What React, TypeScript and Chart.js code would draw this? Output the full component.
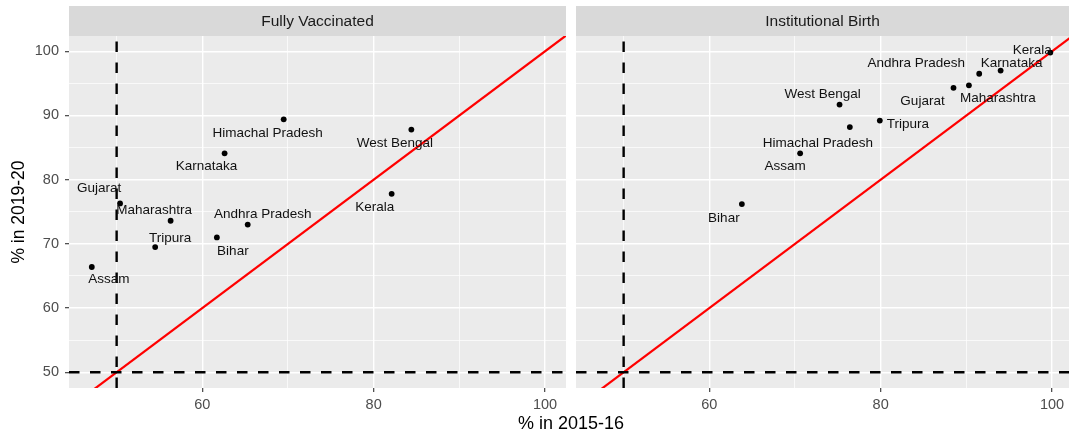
import React, { useEffect, useRef } from "react";
import { Chart, registerables } from "chart.js";

Chart.register(...registerables);

// ---------- data ----------
const states = [
  "Andhra Pradesh",
  "Assam",
  "Bihar",
  "Gujarat",
  "Himachal Pradesh",
  "Karnataka",
  "Kerala",
  "Maharashtra",
  "Tripura",
  "West Bengal",
];
const vaccinated2015 = [65.3, 47.1, 61.7, 50.4, 69.5, 62.6, 82.1, 56.3, 54.5, 84.4];
const vaccinated2019 = [73.0, 66.4, 71.0, 76.3, 89.4, 84.1, 77.8, 73.6, 69.5, 87.8];
const birth2015 = [91.5, 70.6, 63.8, 88.5, 76.4, 94.0, 99.8, 90.3, 79.9, 75.2];
const birth2019 = [96.5, 84.1, 76.2, 94.3, 88.2, 97.0, 99.8, 94.7, 89.2, 91.7];

const panelTitles = ["Fully Vaccinated", "Institutional Birth"];
const xTickLabels = [60, 80, 100];
const xGridValues = [50, 60, 70, 80, 90, 100];
const yTickLabels = [50, 60, 70, 80, 90, 100];
const yGridValues = [50, 55, 60, 65, 70, 75, 80, 85, 90, 95, 100];
const threshold = 50;
const xTitle = "% in 2015-16";
const yTitle = "% in 2019-20";

// label offsets (px) from each point, mimicking the repelled labels
const vaccLabelOffsets = [
  [15, -10], [17, 12], [16, 14], [-21, -15], [-16, 14],
  [-18, 13], [-17, 13], [-16.5, -10], [15, -9], [-16.5, 14],
];
const birthLabelOffsets = [
  [-63, -10], [-15, 13], [-18, 14], [-31, 13], [-32, 16],
  [11, -7], [-18, -2], [29, 13], [28, 4], [-17, -10],
];

// ---------- layout / style ----------
const W = 1069;
const H = 436;
const FONT = '"Liberation Sans", Arial, Helvetica, sans-serif';
const X_MIN = 44.44;
const X_MAX_LEFT = 102.45;
const X_MAX_RIGHT = 101.98;
const Y_MIN = 47.55;
const Y_MAX = 102.38;
const PANEL_TOP = 36;
const STRIP_TOP = 6;
const PANEL_BOTTOM = 388;
const LEFT_PANEL_L = 69;
const LEFT_PANEL_R = 566;
const RIGHT_PANEL_L = 576;

const decorPlugin = {
  id: "decor",
  beforeDraw(chart: any, _args: any, opts: any) {
    const { ctx, chartArea: a } = chart;
    ctx.save();
    ctx.fillStyle = "#EBEBEB";
    ctx.fillRect(a.left, a.top, a.right - a.left, a.bottom - a.top);
    ctx.fillStyle = "#D9D9D9";
    ctx.fillRect(a.left, STRIP_TOP, a.right - a.left, a.top - STRIP_TOP);
    ctx.fillStyle = "#1A1A1A";
    ctx.font = `15.5px ${FONT}`;
    ctx.textAlign = "center";
    ctx.textBaseline = "middle";
    ctx.fillText(opts.strip, (a.left + a.right) / 2, (STRIP_TOP + a.top) / 2 + 1);
    if (opts.yTitle) {
      ctx.save();
      ctx.translate(19, (a.top + a.bottom) / 2);
      ctx.rotate(-Math.PI / 2);
      ctx.fillStyle = "#000000";
      ctx.font = `17.5px ${FONT}`;
      ctx.fillText(opts.yTitle, 0, 0);
      ctx.restore();
    }
    if (opts.xTitle) {
      ctx.fillStyle = "#000000";
      ctx.font = `18px ${FONT}`;
      ctx.fillText(opts.xTitle, (LEFT_PANEL_L + W) / 2 + 2, 424);
    }
    ctx.restore();
  },
  afterDatasetsDraw(chart: any, _args: any, opts: any) {
    const { ctx } = chart;
    const xs = chart.scales.x;
    const ys = chart.scales.y;
    ctx.save();
    ctx.fillStyle = "#111111";
    ctx.font = `13.5px ${FONT}`;
    ctx.textAlign = "center";
    ctx.textBaseline = "middle";
    opts.labels.forEach((lab: string, i: number) => {
      const px = xs.getPixelForValue(opts.xv[i]);
      const py = ys.getPixelForValue(opts.yv[i]);
      ctx.fillText(lab, px + opts.offsets[i][0], py + opts.offsets[i][1]);
    });
    ctx.restore();
  },
};

function makeConfig(panel: number): any {
  const xv = panel === 0 ? vaccinated2015 : birth2015;
  const yv = panel === 0 ? vaccinated2019 : birth2019;
  const offsets = panel === 0 ? vaccLabelOffsets : birthLabelOffsets;
  const xMax = panel === 0 ? X_MAX_LEFT : X_MAX_RIGHT;
  const lo = Math.min(X_MIN, Y_MIN) - 5;
  const hi = Math.max(xMax, Y_MAX) + 5;

  return {
    type: "scatter",
    data: {
      datasets: [
        {
          label: "points",
          data: states.map((_, i) => ({ x: xv[i], y: yv[i] })),
          backgroundColor: "#000000",
          borderWidth: 0,
          pointRadius: 2.9,
          showLine: false,
        },
        {
          label: "vline",
          data: [
            { x: threshold, y: Y_MIN },
            { x: threshold, y: Y_MAX },
          ],
          showLine: true,
          borderColor: "#000000",
          borderWidth: 2.4,
          borderDash: [10.5, 10.5],
          pointRadius: 0,
          clip: 0,
        },
        {
          label: "hline",
          data: [
            { x: X_MIN, y: threshold },
            { x: xMax, y: threshold },
          ],
          showLine: true,
          borderColor: "#000000",
          borderWidth: 2.4,
          borderDash: [10.5, 10.5],
          pointRadius: 0,
          clip: 0,
        },
        {
          label: "identity",
          data: [
            { x: lo, y: lo },
            { x: hi, y: hi },
          ],
          showLine: true,
          borderColor: "#FF0000",
          borderWidth: 2.2,
          pointRadius: 0,
          clip: 0,
        },
      ],
    },
    options: {
      animation: false,
      responsive: false,
      devicePixelRatio: 1,
      events: [],
      layout: {
        autoPadding: false,
        padding: {
          left: 0,
          top: PANEL_TOP,
          right: panel === 0 ? W - LEFT_PANEL_R : 0,
          bottom: 0,
        },
      },
      plugins: {
        legend: { display: false },
        tooltip: { enabled: false },
        decor: {
          strip: panelTitles[panel],
          yTitle: panel === 0 ? yTitle : null,
          xTitle: panel === 1 ? xTitle : null,
          labels: states,
          xv,
          yv,
          offsets,
        },
      },
      scales: {
        x: {
          type: "linear",
          min: X_MIN,
          max: xMax,
          afterBuildTicks: (s: any) => {
            s.ticks = xGridValues.map((v) => ({ value: v }));
          },
          afterFit: (s: any) => {
            s.height = H - PANEL_BOTTOM;
            s.paddingLeft = 0;
            s.paddingRight = 0;
          },
          border: { display: false },
          grid: {
            color: "#FFFFFF",
            lineWidth: (c: any) => (xTickLabels.includes(c.tick?.value) ? 1.4 : 0.7),
            drawTicks: true,
            tickLength: 4,
            tickWidth: 1.1,
            tickColor: (c: any) =>
              xTickLabels.includes(c.tick?.value) ? "#333333" : "rgba(0,0,0,0)",
          },
          ticks: {
            autoSkip: false,
            maxRotation: 0,
            padding: 4,
            color: "#4D4D4D",
            font: { family: FONT, size: 14.5 },
            callback: (v: any) => (xTickLabels.includes(v) ? String(v) : ""),
          },
        },
        y: {
          type: "linear",
          min: Y_MIN,
          max: Y_MAX,
          afterBuildTicks: (s: any) => {
            s.ticks = yGridValues.map((v) => ({ value: v }));
          },
          afterFit: (s: any) => {
            s.width = panel === 0 ? LEFT_PANEL_L : RIGHT_PANEL_L;
            s.paddingTop = 0;
            s.paddingBottom = 0;
          },
          border: { display: false },
          grid: {
            color: "#FFFFFF",
            lineWidth: (c: any) => (yTickLabels.includes(c.tick?.value) ? 1.4 : 0.7),
            drawTicks: panel === 0,
            tickLength: 4,
            tickWidth: 1.1,
            tickColor: (c: any) =>
              yTickLabels.includes(c.tick?.value) ? "#333333" : "rgba(0,0,0,0)",
          },
          ticks: {
            display: panel === 0,
            autoSkip: false,
            padding: 6,
            color: "#4D4D4D",
            font: { family: FONT, size: 14.5 },
            callback: (v: any) => (yTickLabels.includes(v) ? String(v) : ""),
          },
        },
      },
    },
    plugins: [decorPlugin],
  };
}

export default function App() {
  const leftRef = useRef<HTMLCanvasElement | null>(null);
  const rightRef = useRef<HTMLCanvasElement | null>(null);

  useEffect(() => {
    document.body.style.margin = "0";
    const charts: Chart[] = [];
    if (leftRef.current) charts.push(new Chart(leftRef.current, makeConfig(0)));
    if (rightRef.current) charts.push(new Chart(rightRef.current, makeConfig(1)));
    return () => charts.forEach((c) => c.destroy());
  }, []);

  const canvasStyle: React.CSSProperties = {
    position: "absolute",
    left: 0,
    top: 0,
    width: W,
    height: H,
    display: "block",
  };

  return (
    <div style={{ position: "relative", width: W, height: H, background: "#FFFFFF", overflow: "hidden" }}>
      <canvas ref={leftRef} width={W} height={H} style={canvasStyle} />
      <canvas ref={rightRef} width={W} height={H} style={canvasStyle} />
    </div>
  );
}
